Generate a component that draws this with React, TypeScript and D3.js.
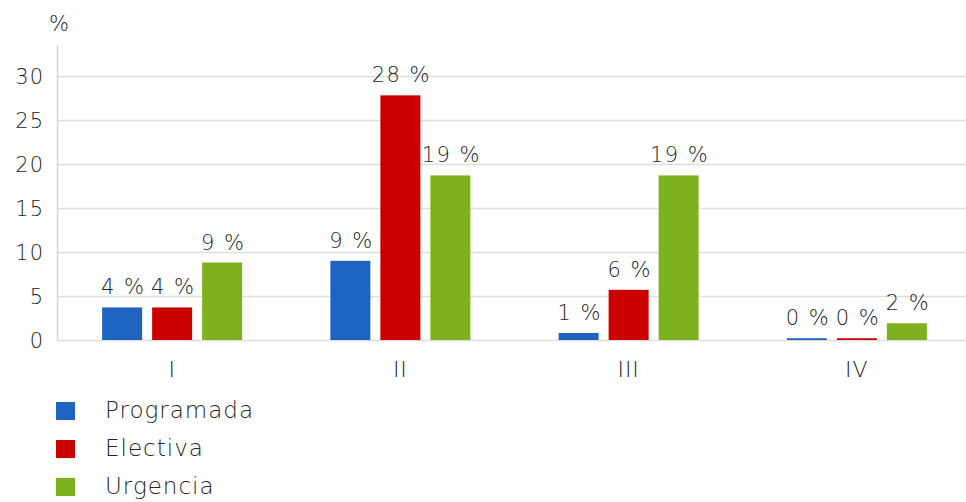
import React from "react";
import * as d3 from "d3";

const categories = ["I", "II", "III", "IV"];
const seriesNames = ["Programada", "Electiva", "Urgencia"];
const programada = [3.7, 9.0, 0.8, 0.2];
const electiva = [3.7, 27.8, 5.7, 0.2];
const urgencia = [8.8, 18.7, 18.7, 1.9];
const yTicks = [0, 5, 10, 15, 20, 25, 30];
const colors = ["#1f63c1", "#cc0000", "#7db11e"];

const W = 966;
const H = 502;
const FONT = "'DejaVu Sans', Verdana, sans-serif";
const TEXT = "#262626";
const WEIGHT = 300;

export default function App() {
  const seriesValues = [programada, electiva, urgencia];
  const x0 = d3.scaleBand<string>().domain(categories).range([58, 971]).padding(0);
  const x1 = d3
    .scaleBand<string>()
    .domain(seriesNames)
    .range([-70, 70])
    .paddingInner(0.2)
    .paddingOuter(0);
  const y = d3.scaleLinear().domain([0, 30]).range([340, 76]);
  const axisX = 57;

  return (
    <svg
      width={W}
      height={H}
      style={{ position: "absolute", left: 0, top: 0, background: "#fff" }}
      fontFamily={FONT}
      fontWeight={WEIGHT}
    >
      <rect x={0} y={0} width={W} height={H} fill="#fff" />
      {yTicks.map((t) => (
        <line key={"g" + t} x1={axisX} x2={W} y1={y(t) + 0.5} y2={y(t) + 0.5} stroke="#dedede" strokeWidth={1.5} />
      ))}
      <line x1={axisX + 0.5} x2={axisX + 0.5} y1={45} y2={y(0)} stroke="#d6d6d6" strokeWidth={1.5} />
      {yTicks.map((t) => (
        <text key={"t" + t} x={44} y={y(t) + 7.5} textAnchor="end" fontSize={21} letterSpacing={1} fill={TEXT}>
          {t}
        </text>
      ))}
      <text x={59} y={31} textAnchor="middle" fontSize={21} fill={TEXT}>
        %
      </text>
      {categories.map((c, ci) => {
        const cx = (x0(c) as number) + x0.bandwidth() / 2;
        return (
          <g key={c}>
            {seriesNames.map((s, si) => {
              const v = seriesValues[si][ci];
              const bx = cx + (x1(s) as number);
              const top = y(v);
              return (
                <g key={s}>
                  <rect x={bx} y={top} width={x1.bandwidth()} height={y(0) - top} fill={colors[si]} />
                  <text
                    x={bx + x1.bandwidth() / 2 + 1}
                    y={top - 13}
                    textAnchor="middle"
                    fontSize={21}
                    letterSpacing={1.5}
                    fill={TEXT}
                  >
                    {Math.round(v) + " %"}
                  </text>
                </g>
              );
            })}
            <text x={cx} y={377} textAnchor="middle" fontSize={22} letterSpacing={1} fill={TEXT}>
              {c}
            </text>
          </g>
        );
      })}
      {seriesNames.map((s, i) => (
        <g key={"l" + s} transform={`translate(56, ${402 + i * 38})`}>
          <rect x={0} y={0} width={19} height={18} fill={colors[i]} />
          <text x={49} y={16} fontSize={23} letterSpacing={1} fill={TEXT}>
            {s}
          </text>
        </g>
      ))}
    </svg>
  );
}
